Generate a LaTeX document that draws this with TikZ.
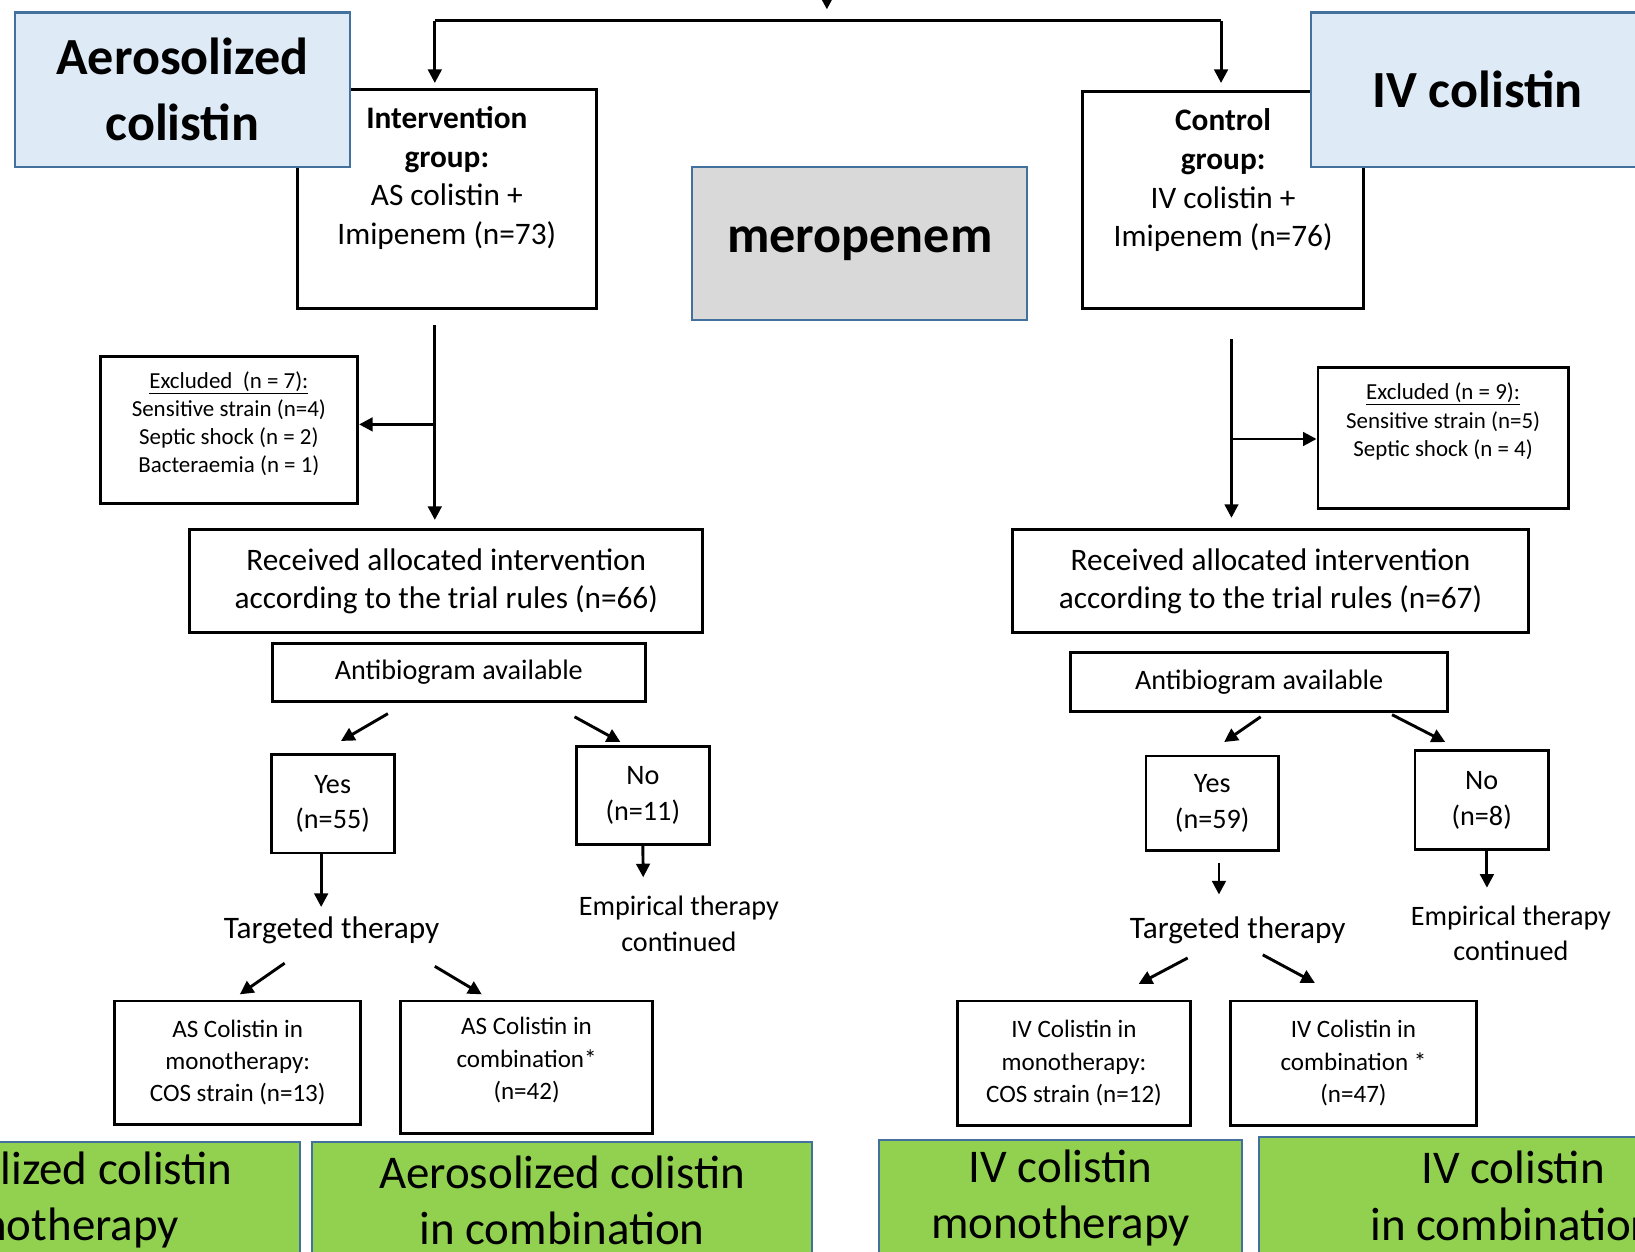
\documentclass[tikz,border=0pt]{standalone}
\usepackage{fontspec}
\setmainfont{Carlito}
\usepackage{xcolor}
\usepackage{tikz}
\usetikzlibrary{arrows.meta}
\definecolor{tagblue}{HTML}{DEEBF7}
\definecolor{tagline}{HTML}{41719C}
\definecolor{merogray}{HTML}{D9D9D9}
\definecolor{resgreen}{HTML}{92D050}
\newcommand\fsbig{\fontsize{50}{63}\selectfont\bfseries}
\newcommand\fsres{\fontsize{45}{54}\selectfont}
\newcommand\fsmain{\fontsize{30}{37}\selectfont}
\newcommand\fsmid{\fontsize{27}{34}\selectfont}
\newcommand\fsarm{\fontsize{24}{31}\selectfont}
\newcommand\fsexcl{\fontsize{22}{27}\selectfont}

\begin{document}
\begin{tikzpicture}[
        x=1pt, y=-1pt,
        flow/.style={
            draw=black,
            line width=2.8pt,
            align=center,
            inner sep=0pt
        },
        armtag/.style={
            draw=tagline,
            line width=2pt,
            fill=tagblue,
            align=center,
            inner sep=0pt,
            font=\fsbig
        },
        outcome/.style={
            draw=tagline,
            line width=2pt,
            fill=resgreen,
            align=center,
            inner sep=0pt,
            font=\fsres
        },
        freetext/.style={
            align=center,
            inner sep=4pt
        },
        arr/.style={
            -{Triangle[length=13pt,width=13pt]},
            line width=2.8pt
        },
        link/.style={
            line width=2.8pt
        }
    ]

    \useasboundingbox (0,0) rectangle (1568,1200);
    \clip (0,0) rectangle (1568,1200);

    % Allocation of the two arms
    \node[flow, font=\fsmain, minimum width=287pt, minimum height=210pt, text depth=45pt] (int) at (428.5,191)
        {\textbf{Intervention}\\\textbf{group:}\\AS colistin +\\Imipenem (n=73)};
    \node[flow, font=\fsmain, minimum width=270pt, minimum height=208pt, text depth=43pt] (ctl) at (1173,192)
        {\textbf{Control}\\\textbf{group:}\\IV colistin +\\Imipenem (n=76)};

    \node[armtag, minimum width=322pt, minimum height=148pt] (aer) at (175,86) {Aerosolized\\colistin};
    \node[armtag, minimum width=320pt, minimum height=148pt] (ivc) at (1417,86) {IV colistin};
    \node[armtag, fill=merogray, minimum width=321pt, minimum height=147pt] (mero) at (824.5,233.5) {meropenem};

    \coordinate (topin) at (793,-30);
    \coordinate (topend) at (793,9);
    \coordinate (tl) at (417,20);
    \coordinate (tr) at (1171,20);
    \draw[arr] (topin) -- (topend);
    \draw[link] (tl) -- (tr);
    \draw[arr, shorten >=5pt] (tl) -- (tl |- int.north);
    \draw[arr, shorten >=7pt] (tr) -- (tr |- ctl.north);

    % Exclusions
    \node[flow, font=\fsexcl, minimum width=247pt, minimum height=141pt, text depth=15pt] (exl) at (219.5,412.5)
        {\underline{Excluded\ \ (n = 7):}\\Sensitive strain (n=4)\\Septic shock (n = 2)\\Bacteraemia (n = 1)};
    \node[flow, font=\fsexcl, minimum width=240pt, minimum height=136pt, text depth=35pt] (exr) at (1384,420)
        {\underline{Excluded (n = 9):}\\Sensitive strain (n=5)\\Septic shock (n = 4)};

    \node[flow, font=\fsmain, minimum width=492pt, minimum height=99pt] (recl) at (428,557.5)
        {Received allocated intervention\\according to the trial rules (n=66)};
    \node[flow, font=\fsmain, minimum width=495pt, minimum height=99pt] (recr) at (1218.5,557.5)
        {Received allocated intervention\\according to the trial rules (n=67)};

    \coordinate (trl) at (417,312);
    \coordinate (bl) at (417,407);
    \coordinate (trr) at (1181,325);
    \coordinate (br) at (1181,421);
    \draw[arr, shorten >=8pt] (trl) -- (trl |- recl.north);
    \draw[arr] (bl) -- (bl -| exl.east);
    \draw[arr, shorten >=10pt] (trr) -- (trr |- recr.north);
    \draw[arr] (br) -- (br -| exr.west);

    % Antibiogram
    \node[flow, font=\fsmid, minimum width=358pt, minimum height=56pt] (abl) at (440,645) {Antibiogram available};
    \node[flow, font=\fsmid, minimum width=361pt, minimum height=56pt] (abr) at (1207.5,654) {Antibiogram available};

    \node[flow, font=\fsmid, minimum width=118pt, minimum height=94pt] (yesl) at (319,771) {Yes\\(n=55)};
    \node[flow, font=\fsmid, minimum width=127pt, minimum height=94pt] (nol) at (616.5,763) {No\\(n=11)};
    \node[flow, font=\fsmid, minimum width=127pt, minimum height=91pt] (yesr) at (1162.5,770.5) {Yes\\(n=59)};
    \node[flow, font=\fsmid, minimum width=128pt, minimum height=95pt] (nor) at (1421,767.5) {No\\(n=8)};

    \draw[arr] ([shift={(-68,10)}]abl.south) -- ([shift={(8,-12)}]yesl.north);
    \draw[arr] ([shift={(111,13)}]abl.south) -- ([shift={(-21.5,-3)}]nol.north);
    \draw[arr] ([shift={(1.5,4)}]abr.south) -- ([shift={(11.5,-12)}]yesr.north);
    \draw[arr] ([shift={(127.5,2)}]abr.south) -- ([shift={(-35,-7)}]nor.north);

    % Therapy
    \node[freetext, font=\fsmain] (tgl) at (318,892) {Targeted therapy};
    \node[freetext, font=\fsmain] (tgr) at (1187,892) {Targeted therapy};
    \node[freetext, font=\fsmid] (eml) at (651,886) {Empirical therapy\\continued};
    \node[freetext, font=\fsmid] (emr) at (1449,895) {Empirical therapy\\continued};

    \draw[arr, shorten >=5pt] ([xshift=-11pt]yesl.south) -- ([xshift=-10pt]tgl.north);
    \draw[arr, shorten >=17pt] ([shift={(6.5,10)}]yesr.south) -- ([xshift=-18pt]tgr.north);
    \draw[arr, shorten >=14pt] (nol.south) -- ([xshift=-34pt]eml.north);
    \draw[arr, shorten >=13pt] ([xshift=5pt]nor.south) -- ([xshift=-23pt]emr.north);

    \node[flow, font=\fsarm, minimum width=236pt, minimum height=118pt] (monl) at (228,1019)
        {AS Colistin in\\monotherapy:\\COS strain (n=13)};
    \node[flow, font=\fsarm, minimum width=242pt, minimum height=127pt, text depth=17pt] (cmbl) at (505,1023.5)
        {AS Colistin in\\combination*\\(n=42)};
    \node[flow, font=\fsarm, minimum width=224pt, minimum height=119pt] (monr) at (1030,1019.5)
        {IV Colistin in\\monotherapy:\\COS strain (n=12)};
    \node[flow, font=\fsarm, minimum width=236pt, minimum height=119pt] (cmbr) at (1298,1019.5)
        {IV Colistin in\\combination *\\(n=47)};

    \draw[arr] ([shift={(-45,14.5)}]tgl.south) -- ([shift={(2,-5)}]monl.north);
    \draw[arr] ([shift={(99,17.5)}]tgl.south) -- ([shift={(-43,-5)}]cmbl.north);
    \draw[arr] ([shift={(-48,9.5)}]tgr.south) -- ([shift={(62,-15)}]monr.north);
    \draw[arr] ([shift={(24,6.5)}]tgr.south) -- ([shift={(-37,-16)}]cmbr.north);

    % Treatment labels
    \node[outcome, minimum width=481pt, minimum height=112pt] (grn1) at (47.5,1151) {Aerosolized colistin\\monotherapy};
    \node[outcome, minimum width=480pt, minimum height=112pt] (grn2) at (539,1151) {Aerosolized colistin\\in combination};
    \node[outcome, minimum width=348pt, minimum height=112pt] (grn3) at (1017,1149) {IV colistin\\monotherapy};
    \node[outcome, minimum width=488pt, minimum height=114pt] (grn4) at (1451,1147) {IV colistin\\in combination};

\end{tikzpicture}
\end{document}
